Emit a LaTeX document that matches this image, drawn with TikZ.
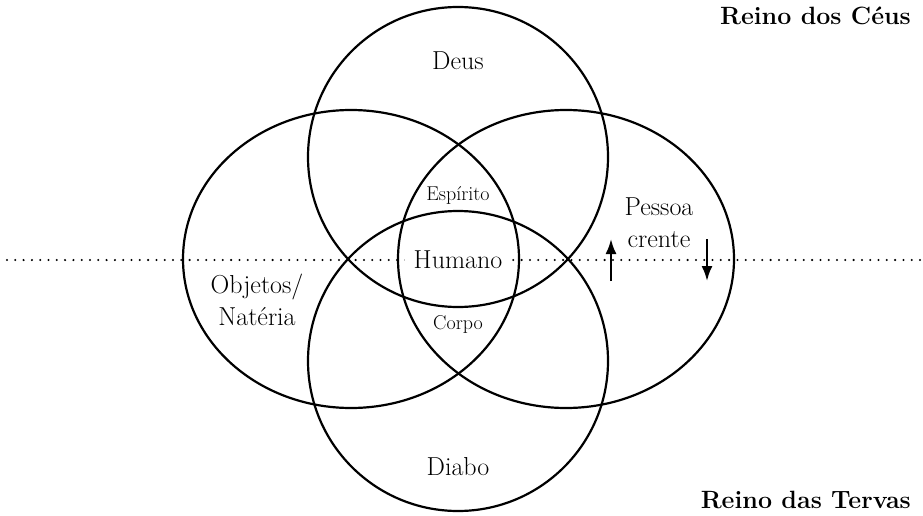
\documentclass[tikz,border=0pt]{standalone}
\usepackage{fontspec}
\usetikzlibrary{arrows.meta}
\begin{document}
\begin{tikzpicture}[x=1pt,y=-1pt,
  ring/.style={line width=2.2pt},
  lbl/.style={anchor=base,inner sep=0pt,font=\fontsize{26}{30}\selectfont},
  small/.style={anchor=base,inner sep=0pt,font=\fontsize{20}{24}\selectfont},
  realm/.style={anchor=base east,inner sep=0pt,font=\fontsize{25}{30}\selectfont\bfseries},
  move/.style={line width=2.2pt,-{Latex[length=15pt,width=11pt]}}]
\useasboundingbox (0,0) rectangle (923,516);
% dotted boundary between realms
\coordinate (dl) at (7,260);
\coordinate (dr) at (920,260);
\draw[line width=2.3pt,line cap=round,dash pattern=on 0pt off 8.3pt] (dl) -- (dr);
% central label masks the dotted line
\node[lbl,fill=white,inner xsep=9pt,inner ysep=3pt] (humano) at (458,268) {Humano};
% circles and ellipses
\draw[ring] (458,157) circle[radius=150pt];
\draw[ring] (458,361) circle[radius=150pt];
\draw[ring] (351,259) ellipse[x radius=168pt,y radius=149pt];
\draw[ring] (566,259) ellipse[x radius=168pt,y radius=149pt];
% labels
\node[lbl] (deus) at (458,70) {Deus};
\node[small] (espirito) at (458,200) {Espírito};
\node[small] (corpo) at (458,329) {Corpo};
\node[lbl] (diabo) at (458,475) {Diabo};
\node[lbl] (obj1) at (257,293) {Objetos/};
\node[lbl] (obj2) at (257,325) {Natéria};
\node[lbl] (pes1) at (659,215) {Pessoa};
\node[lbl] (pes2) at (659,247) {crente};
\node[realm] (ceus) at (911,25) {Reino dos Céus};
\node[realm] (tervas) at (911,508) {Reino das Tervas};
% arrows
\coordinate (up1) at (611,281);
\coordinate (up2) at (611,239);
\coordinate (dn1) at (707,239);
\coordinate (dn2) at (707,281);
\draw[move] (up1) -- (up2);
\draw[move] (dn1) -- (dn2);
\end{tikzpicture}
\end{document}
